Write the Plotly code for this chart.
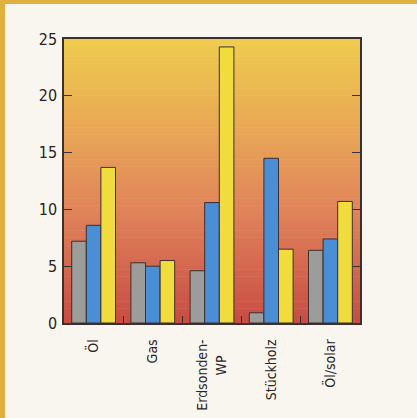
import plotly.graph_objects as go

categories = ["Öl", "Gas", "Erdsonden-WP", "Stückholz", "Öl/solar"]
tick_labels = ["Öl", "Gas", "Erdsonden-<br>WP&nbsp;&nbsp;&nbsp;&nbsp;", "Stückholz", "Öl/solar"]
series_gray = [7.2, 5.3, 4.6, 0.9, 6.4]
series_blue = [8.6, 5.0, 10.6, 14.5, 7.4]
series_yellow = [13.7, 5.5, 24.3, 6.5, 10.7]
y_ticks = [0, 5, 10, 15, 20, 25]

W, H = 417, 418
ML, MR, MT, MB = 64, 57, 39, 95
PW, PH = W - ML - MR, H - MT - MB

FONT = "Liberation Sans Narrow, DejaVu Sans Condensed, Arial Narrow, sans-serif"

fig = go.Figure()
line = dict(color="#3a3030", width=1)
fig.add_bar(x=categories, y=series_gray, marker=dict(color="#9c9c9a", line=line), name="a")
fig.add_bar(x=categories, y=series_blue, marker=dict(color="#4a8ed6", line=line), name="b")
fig.add_bar(x=categories, y=series_yellow, marker=dict(color="#f0dc3c", line=line), name="c")

shapes = []
px = lambda v: v / PW
py = lambda v: v / PH
# golden border strips on top and left
shapes.append(dict(type="rect", xref="paper", yref="paper", layer="below",
                   x0=px(-ML - 2), x1=px(W - ML + 2), y0=py(PH + MT - 4), y1=py(PH + MT + 2),
                   fillcolor="#e2b040", line=dict(width=0)))
shapes.append(dict(type="rect", xref="paper", yref="paper", layer="below",
                   x0=px(-ML - 2), x1=px(-ML + 5), y0=py(-MB - 2), y1=py(PH + MT + 2),
                   fillcolor="#e2b040", line=dict(width=0)))

stops = [(0.0, (200, 76, 68)), (0.40, (224, 132, 90)), (0.67, (232, 165, 86)), (1.0, (238, 204, 78))]
def col(t):
    for (a, ca), (b, cb) in zip(stops[:-1], stops[1:]):
        if a <= t <= b:
            f = (t - a) / (b - a)
            return "rgb(%d,%d,%d)" % tuple(round(ca[i] + (cb[i] - ca[i]) * f) for i in range(3))
    return "rgb(%d,%d,%d)" % stops[-1][1]
N = 80
for i in range(N):
    shapes.append(dict(type="rect", xref="x domain", yref="y domain", layer="below",
                       x0=0, x1=1, y0=i / N, y1=(i + 1) / N + 0.002,
                       fillcolor=col((i + 0.5) / N), line=dict(width=0)))

fig.update_layout(
    width=W, height=H,
    margin=dict(l=ML, r=MR, t=MT, b=MB, pad=0, autoexpand=False),
    paper_bgcolor="#f8f6ee",
    plot_bgcolor="rgba(0,0,0,0)",
    barmode="group", bargap=0.26, bargroupgap=0,
    showlegend=False,
    shapes=shapes,
    font=dict(family=FONT, size=16, color="#2a2424"),
)
fig.update_xaxes(
    showline=True, linecolor="#3a3030", linewidth=1.5, mirror=True,
    ticks="inside", ticklen=7, tickcolor="#3a3030", tickson="boundaries",
    tickmode="array", tickvals=categories, ticktext=tick_labels,
    tickangle=-90, tickfont=dict(size=14, family=FONT), showgrid=False,
    ticklabelstandoff=9, automargin=False,
)
fig.update_yaxes(
    range=[0, 25], tickvals=y_ticks, showline=True, linecolor="#3a3030", linewidth=1.5,
    mirror="ticks", ticks="inside", ticklen=8, tickcolor="#3a3030",
    showgrid=False, zeroline=False, tickfont=dict(size=16, family=FONT),
    ticklabelstandoff=2, automargin=False,
)
fig.write_html("out.html", config={"displayModeBar": False},
               post_script="document.body.style.margin='0';document.body.style.overflow='hidden';")
